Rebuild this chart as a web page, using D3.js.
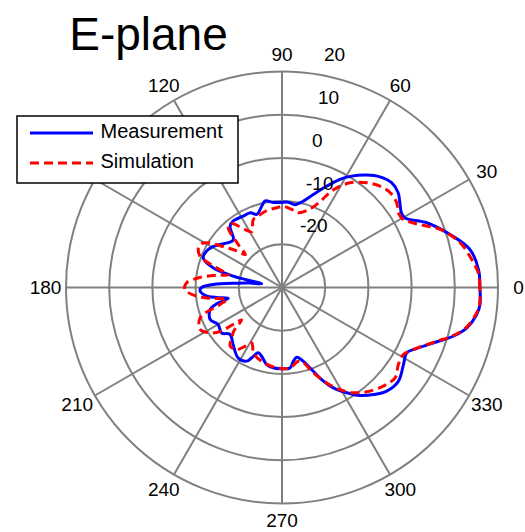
<!DOCTYPE html>
<html>
<head>
<meta charset="utf-8">
<script src="https://cdn.jsdelivr.net/npm/d3@7"></script>
<style>
  html, body { margin: 0; padding: 0; background: #fff; }
  svg { display: block; font-family: "Liberation Sans", Arial, Helvetica, sans-serif; }
</style>
</head>
<body>
<div id="chart"></div>
<script>
// radial grid / tick values (dB)
const radialTicks = [-20, -10, 0, 10, 20];
const angleTicks = [0, 30, 60, 90, 120, 150, 180, 210, 240, 270, 300, 330];
const angleLabels = ["0", "30", "60", "90", "120", "150", "180", "210", "240", "270", "300", "330"];
const seriesNames = ["Measurement", "Simulation"];

// measured pattern, angle in degrees vs gain in dB
const measAngles = [0, 5, 11.4, 17.5, 24.1, 29.5, 32, 35.7, 39.2, 43.7, 48.5, 53, 58, 61.8, 66.2, 71.4, 76.1, 81.1, 85.8, 91, 96,
  101, 104, 109, 113, 118.5, 126, 130.3, 135.4, 140.2, 145.3, 150, 154.3, 159.3, 164, 166.9, 169.6, 172, 174.5, 177.5, 180,
  182, 186, 189, 191.5, 194, 197, 204, 210, 217, 222, 229.5, 238, 244.4, 246.7, 250, 253.5, 258.8, 263.8, 268.6, 275.7,
  278.7, 281.9, 286.1, 290.5, 293.3, 297.1, 301.6, 305.8, 310.5, 315.3, 321.1, 327.6, 332.4, 335.6, 340.7, 344.1, 347.7,
  352.1, 355.1, 360];
const measDb = [15.8, 15.7, 14.4, 10.8, 6.7, 2.7, 2.6, 3.6, 4.7, 5.1, 4.2, 2.6, 0.4, -1.6, -4.4, -7.3, -9.4, -10.6, -10.2, -10.3, -10.2,
  -9.6, -10.6, -12.1, -11.2, -11.2, -10.9, -11.4, -14.2, -13.8, -12.5, -11.3, -10.6, -10.5, -13.4, -18.4, -25.2, -22.5, -19.5, -14.1, -11.4,
  -11.0, -12.2, -15.0, -17.3, -14.4, -12.6, -11.8, -12.9, -12.5, -13.8, -12.6, -10.8, -11.1, -12.3, -13.9, -13.4, -11.8, -11.3, -11.2, -11.3,
  -12.7, -13.5, -12.2, -9.3, -6.8, -3.9, -1.4, 0.8, 2.6, 4.1, 4.6, 3.3, 2.6, 4.2, 8.0, 11.2, 13.8,
  15.5, 16.0, 15.8];

// simulated pattern
const simAngles = [0, 4, 8.4, 14.1, 20.2, 24.5, 29.3, 32.7, 36.4, 41.2, 46, 51, 57, 61.2, 63.5, 66, 70.4, 77.7, 82.9, 89, 93.8,
  98.7, 104, 108.4, 112.9, 118.5, 122.5, 128.7, 132, 135.5, 138, 141, 144.3, 149.3, 152.3, 155.6, 159.3, 161.5, 164, 166.5, 169,
  171.5, 174, 177.2, 181.2, 185.8, 188.5, 192.2, 195.3, 200.3, 207.1, 212.2, 215.5, 218.8, 222, 225, 228.5, 233.8, 238, 241.3,
  245.7, 250, 254.6, 262.5, 270.9, 275.7, 282.5, 285.8, 290.1, 295.1, 299.6, 304.1, 309.1, 315.7, 321.4, 326.5, 331.1, 334.7,
  340.7, 344.1, 347.7, 352.1, 355.1, 360];
const simDb = [15.8, 15.6, 14.4, 12.5, 9.0, 5.1, 2.2, 2.0, 3.0, 3.3, 2.6, 1.2, -1.1, -3.7, -5.6, -8.2, -10.7, -12.3, -11.8, -11.2, -11.5,
  -11.7, -12.1, -12.6, -12.9, -15.3, -14.1, -11.0, -11.4, -15.8, -18.6, -16.5, -14.2, -9.7, -8.6, -8.7, -9.8, -12.0, -15.0, -17.3, -15.0,
  -12.4, -10.0, -7.9, -7.5, -10.1, -13.2, -16.9, -15.1, -9.8, -8.7, -10.3, -12.5, -18.0, -15.0, -13.6, -11.9, -12.2, -14.0, -15.4,
  -13.8, -12.8, -12.3, -11.6, -11.2, -11.3, -12.5, -11.9, -9.0, -5.6, -2.8, -0.6, 1.1, 2.7, 3.5, 2.3, 2.1, 3.6,
  7.8, 11.0, 13.6, 15.3, 15.9, 15.8];

const W = 525, H = 532;
const cx = 282, cy = 287.5, R = 216;
const grey = "#808080";

const svg = d3.select("#chart").append("svg")
  .attr("width", W)
  .attr("height", H);

const r = d3.scaleLinear().domain([-30, 20]).range([0, R]).clamp(true);
const rad = (deg) => deg * Math.PI / 180;

const g = svg.append("g").attr("transform", `translate(${cx},${cy})`);

// spokes
g.append("g").selectAll("line")
  .data(angleTicks.filter((a) => a < 180))
  .join("line")
  .attr("x1", (a) => -R * Math.cos(rad(a)))
  .attr("y1", (a) => R * Math.sin(rad(a)))
  .attr("x2", (a) => R * Math.cos(rad(a)))
  .attr("y2", (a) => -R * Math.sin(rad(a)))
  .attr("stroke", grey)
  .attr("stroke-width", 2);

// rings
g.append("g").selectAll("circle")
  .data(radialTicks)
  .join("circle")
  .attr("r", (d) => r(d))
  .attr("fill", "none")
  .attr("stroke", grey)
  .attr("stroke-width", 2);

// angle labels
g.append("g").selectAll("text")
  .data(angleTicks)
  .join("text")
  .attr("x", (a) => 1.095 * R * Math.cos(rad(a)))
  .attr("y", (a) => -1.08 * R * Math.sin(rad(a)))
  .attr("dy", "0.35em")
  .attr("text-anchor", "middle")
  .attr("font-size", 19)
  .text((a, i) => angleLabels[i]);

// pattern curves
const line = d3.lineRadial()
  .angle((d) => rad(90 - d[0]))
  .radius((d) => r(d[1]))
  .curve(d3.curveCatmullRom.alpha(0.5));

const meas = measAngles.map((a, i) => [a, measDb[i]]);
const sim = simAngles.map((a, i) => [a, simDb[i]]);

g.append("path")
  .attr("d", line(meas))
  .attr("fill", "none")
  .attr("stroke", "#0000ff")
  .attr("stroke-width", 3)
  .attr("stroke-linejoin", "round");

g.append("path")
  .attr("d", line(sim))
  .attr("fill", "none")
  .attr("stroke", "#ff0000")
  .attr("stroke-width", 3)
  .attr("stroke-dasharray", "9,5");

// radial labels, MATLAB style at ~82 deg
g.append("g").selectAll("text")
  .data(radialTicks)
  .join("text")
  .attr("x", (d) => 12 + r(d) * Math.cos(rad(82)))
  .attr("y", (d) => -r(d) * Math.sin(rad(82)) - 19)
  .attr("dy", "0.35em")
  .attr("font-size", 19)
  .text((d) => d);

// title
svg.append("text")
  .attr("x", 148.5)
  .attr("y", 50)
  .attr("text-anchor", "middle")
  .attr("font-size", 46)
  .text("E-plane");

// legend
const leg = svg.append("g");
leg.append("rect")
  .attr("x", 17).attr("y", 116)
  .attr("width", 221).attr("height", 67)
  .attr("fill", "#fff")
  .attr("stroke", "#000")
  .attr("stroke-width", 1.5);

const legY = [131, 161];
const legStyle = [
  { stroke: "#0000ff", dash: null },
  { stroke: "#ff0000", dash: "9,5" }
];
seriesNames.forEach((name, i) => {
  leg.append("line")
    .attr("x1", 30).attr("x2", 93)
    .attr("y1", legY[i] + 2).attr("y2", legY[i] + 2)
    .attr("stroke", legStyle[i].stroke)
    .attr("stroke-width", 3)
    .attr("stroke-dasharray", legStyle[i].dash);
  leg.append("text")
    .attr("x", 100.5)
    .attr("y", legY[i])
    .attr("dy", "0.35em")
    .attr("font-size", 20)
    .text(name);
});
</script>
</body>
</html>
